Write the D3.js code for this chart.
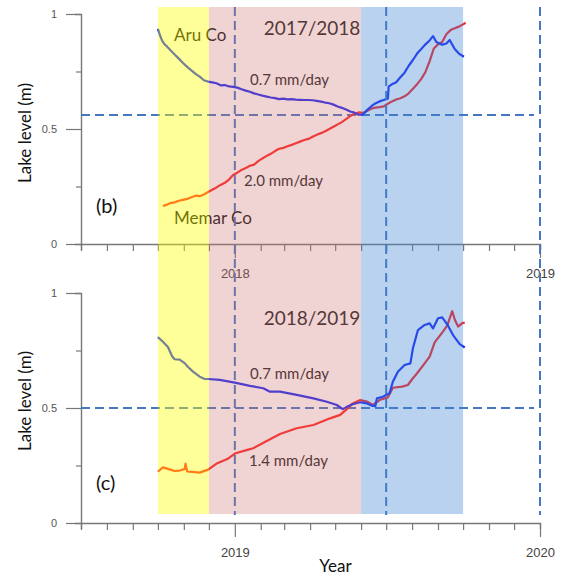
<!DOCTYPE html>
<html>
<head>
<meta charset="utf-8">
<script src="https://cdn.jsdelivr.net/npm/d3@7"></script>
<style>
  body { margin: 0; background: #fff; }
  svg { display: block; }
</style>
</head>
<body>
<svg id="chart" width="561" height="580"></svg>
<script>
// Lake level series: [days since 1 October, level in m]
const aru1718 = [[0,0.935],[2,0.912],[5,0.884],[8,0.868],[10,0.862],[15,0.842],[20,0.824],[25,0.806],[30,0.787],[35,0.770],[40,0.755],[45,0.740],[50,0.728],[55,0.712],[60,0.706],[65,0.703],[70,0.699],[75,0.690],[80,0.691],[85,0.685],[90,0.683],[95,0.680],[100,0.673],[105,0.667],[110,0.662],[115,0.655],[120,0.650],[125,0.645],[130,0.641],[135,0.637],[140,0.634],[145,0.630],[150,0.632],[155,0.629],[160,0.630],[165,0.628],[170,0.627],[175,0.626],[180,0.626],[185,0.625],[190,0.622],[195,0.619],[200,0.615],[205,0.612],[210,0.606],[215,0.598],[220,0.592],[225,0.585],[230,0.576],[235,0.571],[240,0.562],[245,0.562],[250,0.582],[255,0.598],[260,0.611],[265,0.620],[270,0.626],[275,0.632],[276,0.684],[280,0.695],[285,0.703],[290,0.725],[295,0.745],[300,0.775],[305,0.800],[310,0.828],[315,0.848],[320,0.868],[325,0.885],[329,0.904],[333,0.878],[340,0.866],[345,0.872],[349,0.887],[355,0.848],[360,0.828],[366,0.814]];

const memar1718 = [[6,0.165],[10,0.170],[15,0.178],[20,0.181],[25,0.188],[30,0.192],[35,0.196],[40,0.203],[45,0.210],[50,0.208],[55,0.215],[60,0.226],[65,0.236],[70,0.246],[75,0.257],[80,0.266],[85,0.280],[90,0.300],[95,0.310],[100,0.322],[105,0.330],[110,0.340],[115,0.345],[120,0.360],[125,0.372],[130,0.383],[135,0.392],[140,0.404],[145,0.414],[150,0.418],[155,0.425],[160,0.431],[165,0.438],[170,0.445],[175,0.452],[180,0.457],[185,0.466],[190,0.475],[195,0.482],[200,0.490],[205,0.500],[210,0.510],[215,0.520],[220,0.530],[225,0.543],[230,0.556],[235,0.566],[240,0.572],[245,0.570],[250,0.578],[255,0.588],[260,0.593],[265,0.595],[270,0.598],[275,0.610],[280,0.620],[285,0.628],[290,0.634],[295,0.642],[300,0.655],[305,0.675],[310,0.695],[315,0.718],[320,0.748],[325,0.795],[330,0.850],[335,0.868],[340,0.878],[345,0.912],[350,0.930],[355,0.938],[360,0.945],[365,0.955],[368,0.962]];

const aru1819 = [[0,0.808],[6,0.788],[12,0.765],[17,0.725],[20,0.712],[26,0.710],[32,0.695],[36,0.678],[42,0.658],[50,0.636],[56,0.626],[60,0.626],[74,0.622],[92,0.610],[110,0.596],[126,0.586],[134,0.571],[146,0.571],[166,0.557],[186,0.542],[202,0.527],[214,0.513],[221,0.495],[226,0.505],[232,0.515],[242,0.525],[250,0.520],[257,0.509],[260,0.508],[262,0.542],[269,0.549],[277,0.564],[281,0.614],[287,0.658],[295,0.687],[302,0.694],[305,0.760],[311,0.839],[319,0.861],[325,0.868],[329,0.846],[335,0.890],[340,0.894],[346,0.864],[353,0.817],[361,0.778],[367,0.763]];

const memar1819 = [[0,0.223],[6,0.242],[14,0.233],[20,0.226],[26,0.228],[32,0.234],[33,0.258],[35,0.224],[41,0.222],[50,0.219],[60,0.232],[71,0.260],[83,0.278],[92,0.302],[107,0.318],[114,0.325],[146,0.387],[166,0.412],[186,0.426],[206,0.455],[218,0.470],[226,0.495],[233,0.520],[242,0.535],[250,0.528],[257,0.513],[266,0.536],[275,0.546],[281,0.588],[292,0.593],[299,0.600],[304,0.625],[310,0.651],[317,0.684],[325,0.723],[331,0.785],[340,0.828],[346,0.858],[352,0.921],[355,0.885],[359,0.854],[364,0.869],[367,0.871]];

// Season boundaries (dry / winter / melt) and reference dates, in the first panel's time frame
const seasonEdges = [new Date(2017, 9, 1), new Date(2017, 11, 1), new Date(2018, 5, 1), new Date(2018, 9, 1)];
const seasonColors = ["#ffff00", "#cc6e6e", "#3c82d2"];
const seasonOpacity = [0.4, 0.3, 0.36];
const markerDates = [new Date(2018, 0, 1), new Date(2018, 6, 1), new Date(2019, 0, 1)];

const panels = [
  { id: "b", top: 14, start: new Date(2017, 6, 1), end: new Date(2019, 0, 1), origin: new Date(2017, 9, 1),
    aru: aru1718, memar: memar1718, threshold: 0.561, title: "2017/2018",
    rateAru: "0.7 mm/day", rateMemar: "2.0 mm/day" },
  { id: "c", top: 293, start: new Date(2018, 6, 1), end: new Date(2020, 0, 1), origin: new Date(2018, 9, 1),
    aru: aru1819, memar: memar1819, threshold: 0.5, title: "2018/2019",
    rateAru: "0.7 mm/day", rateMemar: "1.4 mm/day" }
];

const svg = d3.select("#chart");
const left = 81, right = 540, plotH = 230;
const labelFont = "Lato, 'Open Sans', sans-serif";
const tickFont = "'Liberation Sans', Arial, sans-serif";

const xTop = d3.scaleTime().domain([panels[0].start, panels[0].end]).range([left, right]);

panels.forEach((p, i) => {
  const x = d3.scaleTime().domain([p.start, p.end]).range([left, right]);
  const y = d3.scaleLinear().domain([0, 1]).range([p.top + plotH, p.top]);
  const g = svg.append("g");

  // y axis
  const yAxis = g.append("g").attr("transform", `translate(${left},0)`)
    .call(d3.axisLeft(y).tickValues([0, 0.25, 0.5, 0.75, 1])
      .tickFormat(d => (d === 0 || d === 0.5 || d === 1) ? String(d) : ""));
  yAxis.select(".domain").attr("stroke", "#777").attr("stroke-width", 1.4);
  yAxis.selectAll(".tick line").attr("stroke", "#777").attr("stroke-width", 1.2)
    .attr("x2", d => (d === 0 || d === 0.5 || d === 1) ? -15 : -5);
  yAxis.selectAll(".tick text").attr("x", -24).attr("fill", "#555")
    .style("font-family", tickFont).style("font-size", "11px");

  // x axis with monthly ticks, longer ones at the new year
  const xAxis = g.append("g").attr("transform", `translate(0,${p.top + plotH})`)
    .call(d3.axisBottom(x).ticks(d3.timeMonth.every(1))
      .tickFormat(d => d.getMonth() === 0 ? d3.timeFormat("%Y")(d) : ""));
  xAxis.select(".domain").attr("stroke", "#777").attr("stroke-width", 1.4);
  xAxis.selectAll(".tick line").attr("stroke", "#777").attr("stroke-width", 1.2)
    .attr("y2", d => d.getMonth() === 0 ? 14 : 7);
  xAxis.selectAll(".tick text").attr("y", 25).attr("fill", "#444")
    .style("font-family", tickFont).style("font-size", "13px");

  // threshold level
  g.append("line")
    .attr("x1", left).attr("x2", right - 6)
    .attr("y1", y(p.threshold)).attr("y2", y(p.threshold))
    .attr("stroke", "#4677c2").attr("stroke-width", 2).attr("stroke-dasharray", "9,5");

  // lake level series
  const line = d3.line()
    .x(d => x(d3.timeDay.offset(p.origin, d[0])))
    .y(d => y(d[1]));
  g.append("path").datum(p.memar).attr("d", line)
    .attr("fill", "none").attr("stroke", "#ff2626").attr("stroke-width", 2.2)
    .attr("stroke-linejoin", "round");
  g.append("path").datum(p.aru).attr("d", line)
    .attr("fill", "none").attr("stroke", "#1c2cf5").attr("stroke-width", 2.2)
    .attr("stroke-linejoin", "round");

  // annotations
  const txt = (tx, ty, s, size, fill, anchor) => g.append("text")
    .attr("x", tx).attr("y", ty).text(s)
    .attr("text-anchor", anchor || "start").attr("fill", fill)
    .style("font-family", labelFont).style("font-size", size + "px");

  txt(312, p.top + (i === 0 ? 21 : 32), p.title, 19, "#222", "middle");
  txt(250, p.top + (i === 0 ? 71 : 86), p.rateAru, 15, "#222");
  txt(i === 0 ? 244 : 249, p.top + (i === 0 ? 172 : 173), p.rateMemar, 15, "#222");
  txt(96, p.top + (i === 0 ? 199 : 197), `(${p.id})`, 20, "#111");
  if (i === 0) {
    txt(174, p.top + 27, "Aru Co", 17, "#111");
    txt(174, p.top + 210, "Memar Co", 17, "#111");
  }
  g.append("text")
    .attr("transform", `translate(31,${p.top + (i === 0 ? 119 : 108)}) rotate(-90)`)
    .attr("text-anchor", "middle").attr("fill", "#111")
    .style("font-family", labelFont).style("font-size", "17px")
    .text("Lake level (m)");
});

svg.append("text").attr("x", 335.5).attr("y", 572).attr("text-anchor", "middle")
  .attr("fill", "#111").style("font-family", labelFont).style("font-size", "17px").text("Year");

// reference dates spanning both panels
svg.append("g").selectAll("line").data(markerDates).join("line")
  .attr("x1", d => xTop(d)).attr("x2", d => xTop(d))
  .attr("y1", 7).attr("y2", 515)
  .attr("stroke", "#4677c2").attr("stroke-width", 2).attr("stroke-dasharray", "9,5");

// translucent season bands laid over everything
svg.append("g").selectAll("rect").data(d3.range(seasonColors.length)).join("rect")
  .attr("x", k => xTop(seasonEdges[k]))
  .attr("width", k => xTop(seasonEdges[k + 1]) - xTop(seasonEdges[k]))
  .attr("y", 7).attr("height", 507)
  .attr("fill", k => seasonColors[k])
  .attr("fill-opacity", k => seasonOpacity[k]);
</script>
</body>
</html>
